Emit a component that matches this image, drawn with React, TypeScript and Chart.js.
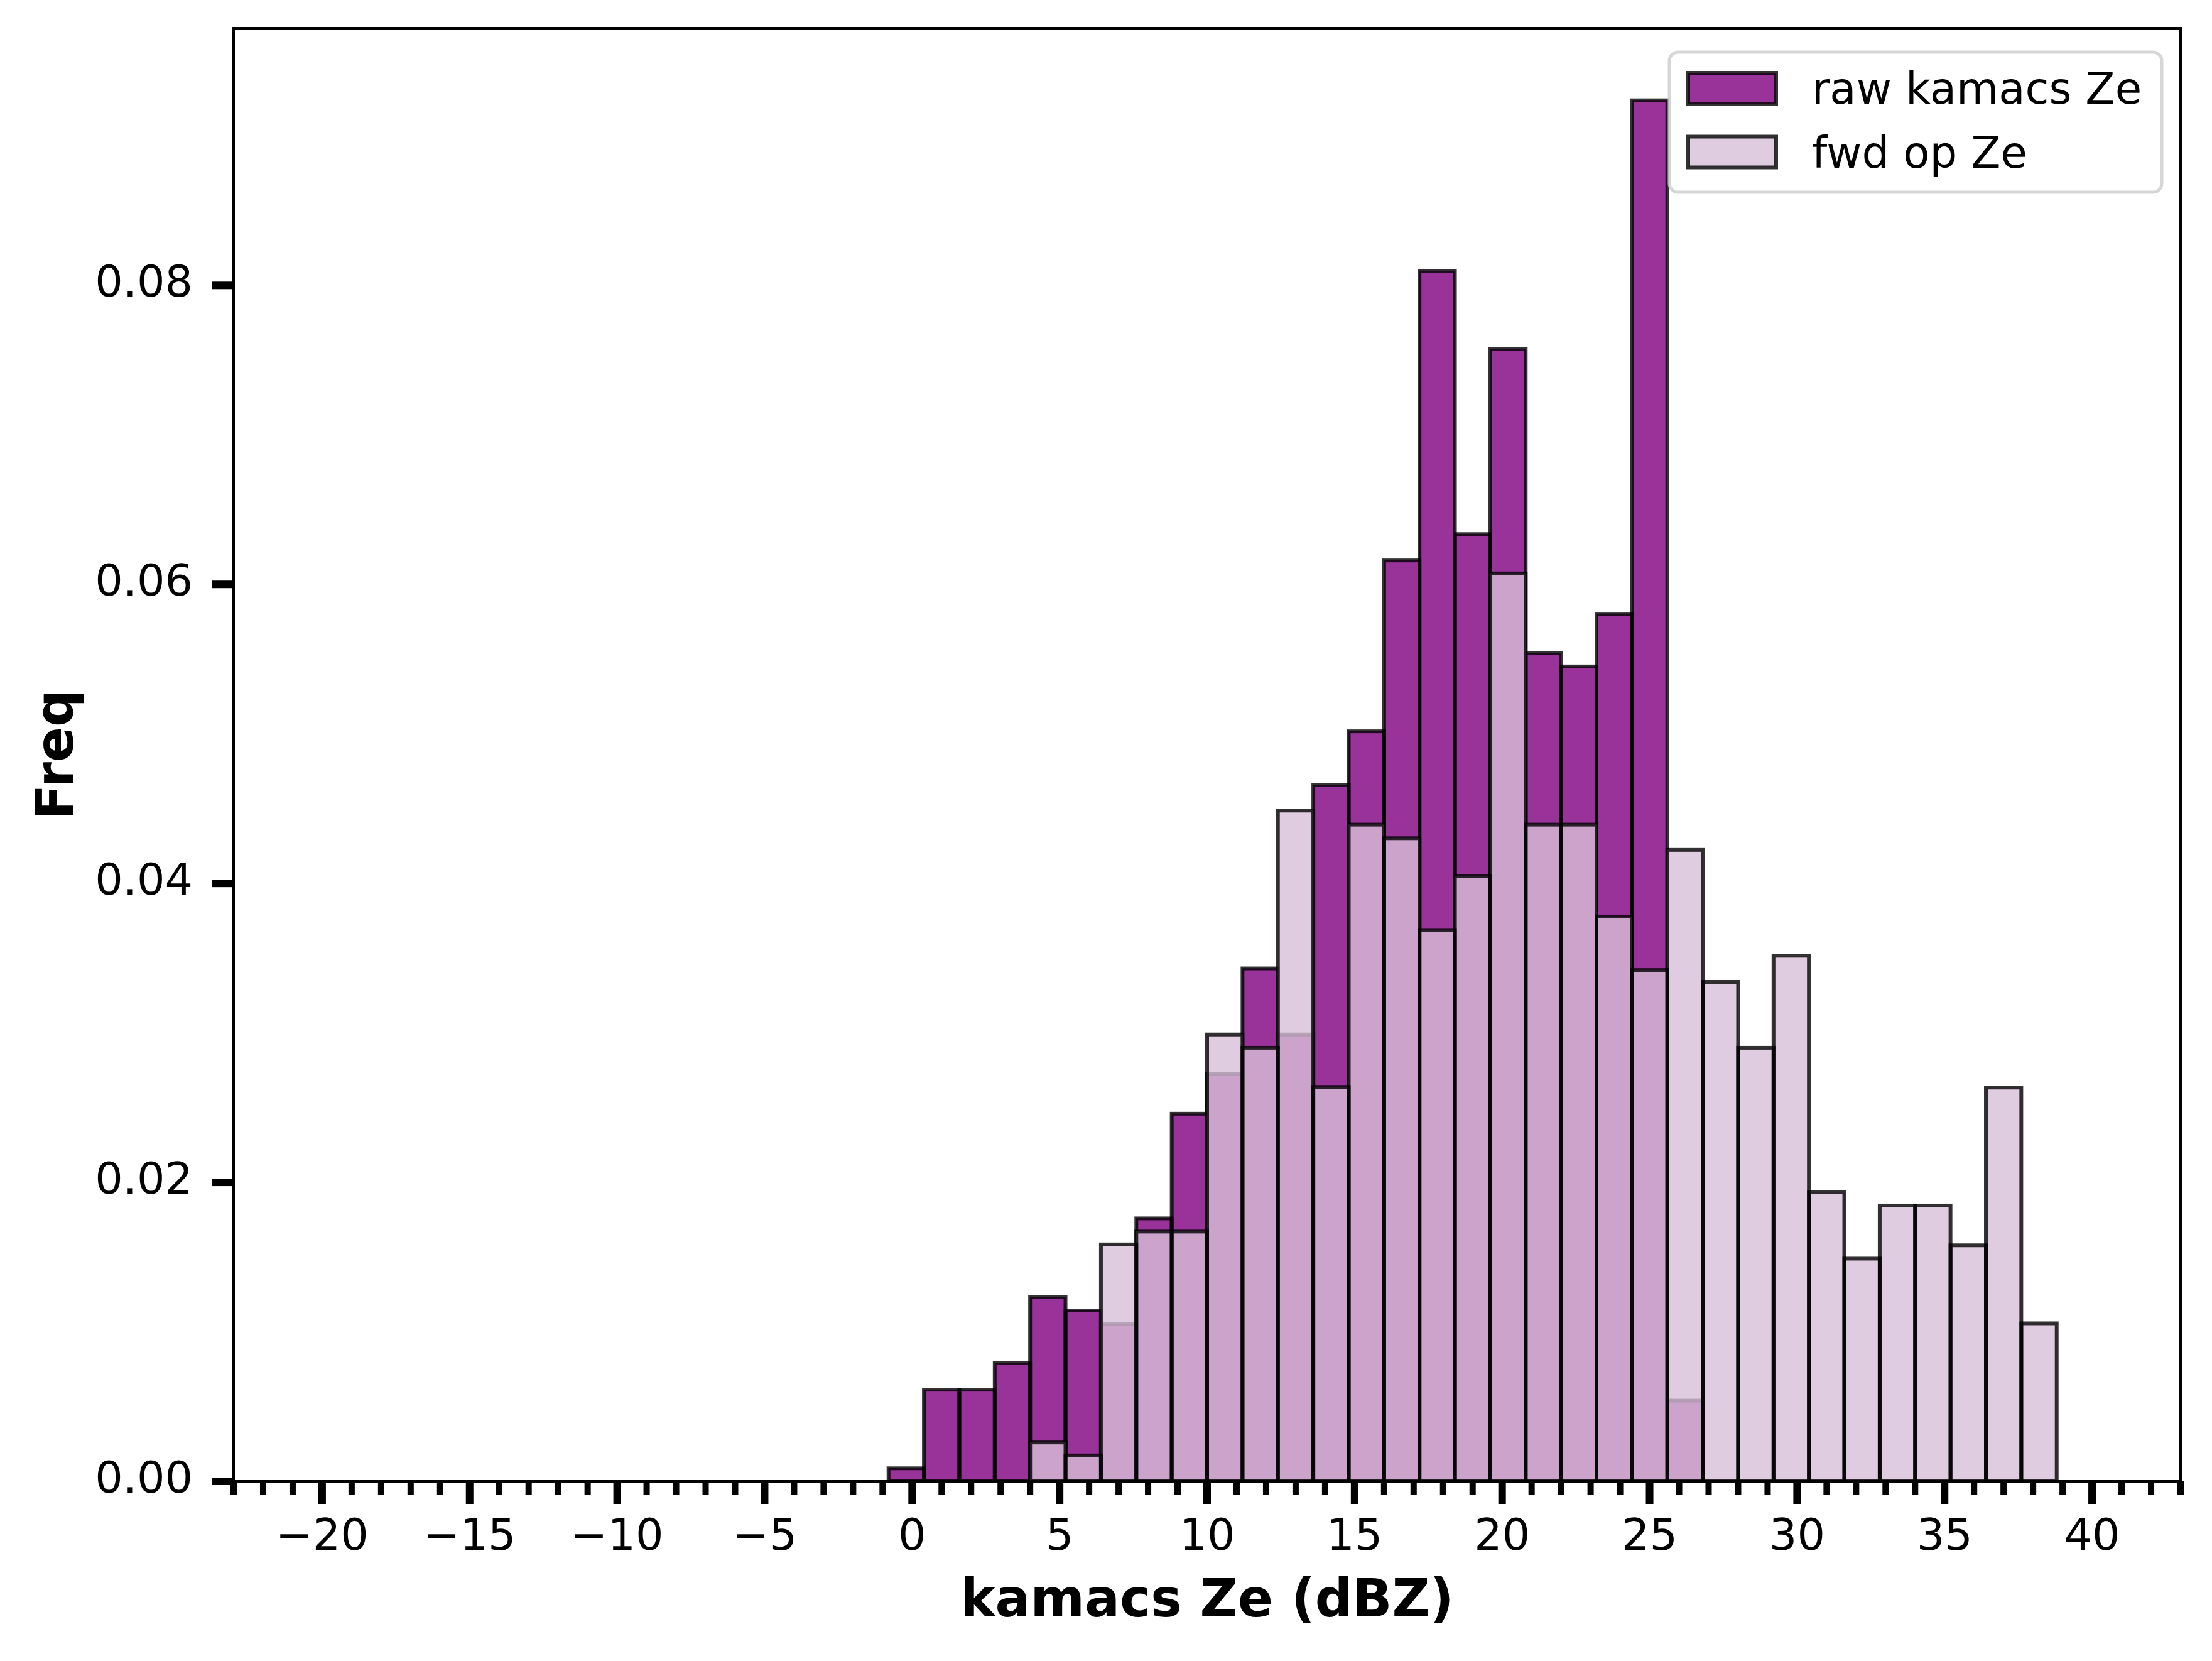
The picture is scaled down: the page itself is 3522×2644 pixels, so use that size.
import { useEffect, useRef } from "react"
import { Chart, registerables } from "chart.js"

Chart.register(...registerables)

// histogram bins (1.2 dBZ wide), centre of each bin
const binCenters = [
  -19.4, -18.2, -17.0, -15.8, -14.6, -13.4, -12.2, -11.0, -9.8, -8.6,
  -7.4, -6.2, -5.0, -3.8, -2.6, -1.4, -0.2, 1.0, 2.2, 3.4,
  4.6, 5.8, 7.0, 8.2, 9.4, 10.6, 11.8, 13.0, 14.2, 15.4,
  16.6, 17.8, 19.0, 20.2, 21.4, 22.6, 23.8, 25.0, 26.2, 27.4,
  28.6, 29.8, 31.0, 32.2, 33.4, 34.6, 35.8, 37.0, 38.2, 39.4,
]

const rawZe = [
  0, 0, 0, 0, 0, 0, 0, 0, 0, 0,
  0, 0, 0, 0, 0, 0, 0.00087, 0.00613, 0.00613, 0.0079,
  0.01232, 0.01143, 0.01052, 0.01759, 0.02459, 0.02724, 0.03431, 0.02989, 0.04659, 0.05017,
  0.0616, 0.08098, 0.06336, 0.07573, 0.05541, 0.05451, 0.05803, 0.09238, 0.0054, 0,
  0, 0, 0, 0, 0, 0, 0, 0, 0, 0,
]

const fwdZe = [
  0, 0, 0, 0, 0, 0, 0, 0, 0, 0,
  0, 0, 0, 0, 0, 0, 0, 0, 0, 0,
  0.0026, 0.00173, 0.01585, 0.01671, 0.01671, 0.02989, 0.029, 0.04487, 0.02638, 0.04393,
  0.04302, 0.03688, 0.04048, 0.06073, 0.04393, 0.04393, 0.03778, 0.0342, 0.04224, 0.03341,
  0.029, 0.03516, 0.01935, 0.0149, 0.01845, 0.01845, 0.01579, 0.02634, 0.01057, 0,
]

const seriesLabels = ["raw kamacs Ze", "fwd op Ze"]
const xTicks = [-20, -15, -10, -5, 0, 5, 10, 15, 20, 25, 30, 35, 40]
const yTicks = [0, 0.02, 0.04, 0.06, 0.08]

const FONT = "'DejaVu Sans', 'Liberation Sans', sans-serif"
const EDGE = "rgba(0, 0, 0, 0.8)"
const EDGE_WIDTH = 6

// ticks (minor every 1 dBZ), frame, bar edges and the boxed legend, matplotlib style
const decorPlugin = {
  id: "decor",
  // edges are stroked centred on the bar outline, right after each dataset's fill
  afterDatasetDraw(chart: any, args: any) {
    const { ctx } = chart
    ctx.save()
    ctx.strokeStyle = EDGE
    ctx.lineWidth = EDGE_WIDTH
    for (const el of args.meta.data) {
      const { x, y, base, width } = el.getProps(["x", "y", "base", "width"], true)
      if (Math.abs(base - y) < 0.5) continue
      ctx.strokeRect(x - width / 2, y, width, base - y)
    }
    ctx.restore()
  },
  afterDraw(chart: any) {
    const { ctx, chartArea: a, scales } = chart
    const x = scales.x
    const y = scales.y
    ctx.save()
    ctx.fillStyle = "#000"
    for (let v = Math.ceil(x.min); v <= x.max; v++) {
      const px = x.getPixelForValue(v)
      const major = v % 5 === 0
      const w = major ? 12 : 10
      const len = major ? 36 : 21
      ctx.fillRect(px - w / 2, a.bottom, w, len)
    }
    for (const t of y.ticks) {
      const py = y.getPixelForValue(t.value)
      ctx.fillRect(a.left - 35, py - 6, 35, 12)
    }
    ctx.strokeStyle = "#000"
    ctx.lineWidth = 4
    ctx.strokeRect(a.left, a.top, a.right - a.left, a.bottom - a.top)

    // legend
    const right = a.right - 30
    const top = a.top + 38
    const w = 784
    const h = 223
    const left = right - w
    ctx.beginPath()
    ctx.roundRect(left, top, w, h, 14)
    ctx.fillStyle = "rgba(255,255,255,0.8)"
    ctx.fill()
    ctx.strokeStyle = "rgba(204,204,204,0.8)"
    ctx.lineWidth = 5
    ctx.stroke()
    chart.data.datasets.forEach((ds: any, i: number) => {
      const cy = top + 57.5 + i * 101.5
      ctx.fillStyle = ds.backgroundColor
      ctx.fillRect(left + 30, cy - 24.5, 140, 49)
      ctx.strokeStyle = EDGE
      ctx.lineWidth = EDGE_WIDTH
      ctx.strokeRect(left + 30, cy - 24.5, 140, 49)
      ctx.fillStyle = "#000"
      ctx.font = `69px ${FONT}`
      ctx.textAlign = "left"
      ctx.textBaseline = "alphabetic"
      ctx.fillText(ds.label, left + 227, cy + 24.5)
    })
    ctx.restore()
  },
}

function HistogramChart() {
  const chartRef = useRef<HTMLCanvasElement>(null)
  const chartInstance = useRef<Chart | null>(null)

  useEffect(() => {
    if (!chartRef.current) return
    if (chartInstance.current) chartInstance.current.destroy()
    const ctx = chartRef.current.getContext("2d")
    if (!ctx) return

    const barStyle = {
      borderWidth: 0,
      grouped: false,
      barPercentage: 1,
      categoryPercentage: 1,
    }

    chartInstance.current = new Chart(ctx, {
      type: "bar",
      data: {
        datasets: [
          {
            ...barStyle,
            label: seriesLabels[0],
            data: binCenters.map((c, i) => ({ x: c, y: rawZe[i] })),
            backgroundColor: "rgba(128, 0, 128, 0.8)",
            order: 1,
          },
          {
            ...barStyle,
            label: seriesLabels[1],
            data: binCenters.map((c, i) => ({ x: c, y: fwdZe[i] })),
            backgroundColor: "rgba(216, 191, 216, 0.8)",
            order: 0,
          },
        ],
      } as any,
      options: {
        animation: false,
        responsive: false,
        devicePixelRatio: 1,
        layout: { padding: { top: 45, right: 50, left: 0, bottom: 0 } },
        plugins: {
          legend: { display: false },
          tooltip: { enabled: false },
        },
        scales: {
          x: {
            type: "linear",
            min: -23,
            max: 43,
            offset: false,
            grid: { display: false, drawTicks: false },
            border: { display: false },
            afterBuildTicks: (s: any) => {
              s.ticks = xTicks.map((value) => ({ value }))
            },
            afterFit: (s: any) => {
              s.height = 286
              s.paddingLeft = 0
              s.paddingRight = 0
            },
            ticks: {
              autoSkip: false,
              maxRotation: 0,
              padding: 49,
              color: "#000",
              font: { family: FONT, size: 70 },
              callback: (v: any) => (v < 0 ? "\u2212" + Math.abs(v) : String(v)),
            },
            title: {
              display: true,
              text: "kamacs Ze (dBZ)",
              color: "#000",
              font: { family: FONT, size: 83, weight: "bold" },
              padding: { top: 0, bottom: 43 },
            },
          },
          y: {
            type: "linear",
            min: 0,
            max: 0.0972,
            grid: { display: false, drawTicks: false },
            border: { display: false },
            afterBuildTicks: (s: any) => {
              s.ticks = yTicks.map((value) => ({ value }))
            },
            afterFit: (s: any) => {
              s.width = 372
              s.paddingTop = 0
              s.paddingBottom = 0
            },
            ticks: {
              padding: 65,
              color: "#000",
              font: { family: FONT, size: 70 },
              callback: (v: any) => Number(v).toFixed(2),
            },
            title: {
              display: true,
              text: "Freq",
              color: "#000",
              font: { family: FONT, size: 83, weight: "bold" },
              padding: { top: 45, bottom: 0 },
            },
          },
        },
      } as any,
      plugins: [decorPlugin],
    })

    return () => {
      if (chartInstance.current) {
        chartInstance.current.destroy()
        chartInstance.current = null
      }
    }
  }, [])

  return <canvas ref={chartRef} width={3522} height={2644} style={{ display: "block" }} />
}

export default function App() {
  return (
    <div style={{ position: "fixed", left: 0, top: 0, width: 3522, height: 2644, background: "#fff" }}>
      <HistogramChart />
    </div>
  )
}
